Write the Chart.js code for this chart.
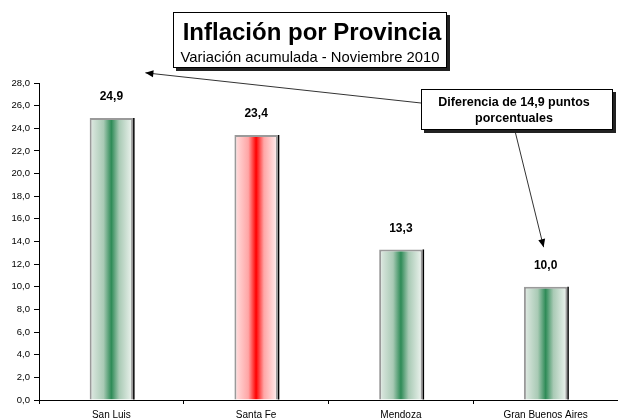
<!DOCTYPE html>
<html>
<head>
<meta charset="utf-8">
<script src="https://cdn.jsdelivr.net/npm/chart.js@4"></script>
<style>
html,body{margin:0;padding:0;background:#fff;}
#wrap{width:618px;height:420px;position:relative;}
</style>
</head>
<body>
<div id="wrap"><canvas id="c" width="618" height="420"></canvas></div>
<script>
const categories = ['San Luis', 'Santa Fe', 'Mendoza', 'Gran Buenos Aires'];
const inflation = [24.9, 23.4, 13.3, 10.0];
const barPalette = ['green', 'red', 'green', 'green'];
const yTicks = {min: 0, max: 28, step: 2};
const titleText = 'Inflación por Provincia';
const subtitleText = 'Variación acumulada - Noviembre 2010';
const noteLines = ['Diferencia de 14,9 puntos', 'porcentuales'];

const FONT = '"Liberation Sans", Arial, sans-serif';
const BAR_FRAC = 0.3;
const fmt = v => v.toFixed(1).replace('.', ',');

const gradStops = {
  green: ['#e2ebe5', '#a9cab5', '#2e8b57', '#a9cab5', '#f0f5f1'],
  red:   ['#ffe2e2', '#ffa6a6', '#ff0000', '#ffa6a6', '#fff2f2']
};

function barFill(ctx) {
  const chart = ctx.chart;
  const xs = chart.scales.x;
  const kind = barPalette[ctx.dataIndex] || 'green';
  const stops = gradStops[kind];
  if (!xs || ctx.type !== 'data') return stops[2];
  const c = xs.getPixelForValue(ctx.dataIndex);
  const half = (xs.width / categories.length) * BAR_FRAC / 2;
  if (!isFinite(c) || !isFinite(half) || half <= 0) return stops[2];
  const g = chart.ctx.createLinearGradient(c - half, 0, c + half, 0);
  g.addColorStop(0, stops[0]);
  g.addColorStop(0.32, stops[1]);
  g.addColorStop(0.5, stops[2]);
  g.addColorStop(0.68, stops[3]);
  g.addColorStop(1, stops[4]);
  return g;
}

function drawBox(ctx, x, y, w, h, sh) {
  ctx.save();
  ctx.fillStyle = '#222';
  ctx.fillRect(x + sh, y + sh, w, h);
  ctx.fillStyle = '#fff';
  ctx.fillRect(x, y, w, h);
  ctx.strokeStyle = '#000';
  ctx.lineWidth = 1;
  ctx.strokeRect(x + 0.5, y + 0.5, w - 1, h - 1);
  ctx.restore();
}

function arrow(ctx, x1, y1, x2, y2) {
  ctx.save();
  ctx.strokeStyle = '#333';
  ctx.fillStyle = '#000';
  ctx.lineWidth = 1;
  ctx.beginPath();
  ctx.moveTo(x1, y1);
  ctx.lineTo(x2, y2);
  ctx.stroke();
  const a = Math.atan2(y2 - y1, x2 - x1);
  const L = 8, W = 3.5;
  ctx.beginPath();
  ctx.moveTo(x2, y2);
  ctx.lineTo(x2 - L * Math.cos(a) + W * Math.sin(a), y2 - L * Math.sin(a) - W * Math.cos(a));
  ctx.lineTo(x2 - L * Math.cos(a) - W * Math.sin(a), y2 - L * Math.sin(a) + W * Math.cos(a));
  ctx.closePath();
  ctx.fill();
  ctx.restore();
}

const decor = {
  id: 'decor',
  afterDatasetsDraw(chart) {
    const ctx = chart.ctx;
    const meta = chart.getDatasetMeta(0);
    ctx.save();
    meta.data.forEach((bar, i) => {
      const p = bar.getProps(['x', 'y', 'base', 'width'], true);
      ctx.strokeStyle = '#000';
      ctx.lineWidth = 1.5;
      ctx.beginPath();
      ctx.moveTo(p.x + p.width / 2 + 0.75, p.y);
      ctx.lineTo(p.x + p.width / 2 + 0.75, p.base);
      ctx.stroke();
      ctx.fillStyle = '#000';
      ctx.font = 'bold 12px ' + FONT;
      ctx.textAlign = 'center';
      ctx.textBaseline = 'middle';
      ctx.fillText(fmt(inflation[i]), p.x, p.y - 21);
    });
    ctx.restore();
  },
  afterDraw(chart) {
    const ctx = chart.ctx;
    const xs = chart.scales.x, ys = chart.scales.y;
    drawBox(ctx, 173, 12, 274, 56, 3);
    ctx.save();
    ctx.fillStyle = '#000';
    ctx.textAlign = 'center';
    ctx.textBaseline = 'alphabetic';
    ctx.font = 'bold 24px ' + FONT;
    ctx.fillText(titleText, 312, 40);
    ctx.font = '14.8px ' + FONT;
    ctx.fillText(subtitleText, 310, 62);
    ctx.restore();

    const tip1x = xs.getPixelForValue(0) + 34, tip1y = ys.getPixelForValue(28.9);
    const tip2x = xs.getPixelForValue(3) - 2, tip2y = ys.getPixelForValue(13.5);
    arrow(ctx, 421, 103, tip1x, tip1y);
    arrow(ctx, 515, 131, tip2x, tip2y);

    drawBox(ctx, 421, 89, 192, 41, 3);
    ctx.save();
    ctx.fillStyle = '#000';
    ctx.textAlign = 'center';
    ctx.textBaseline = 'middle';
    ctx.font = 'bold 12.5px ' + FONT;
    ctx.fillText(noteLines[0], 514, 103);
    ctx.fillText(noteLines[1], 514, 119);
    ctx.restore();
  }
};

new Chart(document.getElementById('c'), {
  type: 'bar',
  data: {
    labels: categories,
    datasets: [{
      data: inflation,
      backgroundColor: barFill,
      borderColor: '#9a9a9a',
      borderWidth: {top: 2, left: 2, right: 2, bottom: 0},
      borderSkipped: 'bottom',
      categoryPercentage: 1,
      barPercentage: BAR_FRAC
    }]
  },
  options: {
    responsive: false,
    animation: false,
    devicePixelRatio: 1,
    layout: {padding: {top: 83, right: -4, left: 0, bottom: 0}},
    plugins: {legend: {display: false}, tooltip: {enabled: false}, title: {display: false}},
    scales: {
      x: {
        offset: true,
        afterFit: s => { s.height = 20; },
        grid: {display: true, drawOnChartArea: false, offset: true, tickLength: 4, color: '#000'},
        border: {display: true, color: '#000', width: 1},
        ticks: {font: {family: FONT, size: 10}, color: '#000', padding: 5, maxRotation: 0}
      },
      y: {
        min: yTicks.min,
        max: yTicks.max,
        afterFit: s => { s.width = 39; },
        grid: {display: true, drawOnChartArea: false, tickLength: 5, color: '#000'},
        border: {display: true, color: '#000', width: 1},
        ticks: {stepSize: yTicks.step, font: {family: FONT, size: 9.5}, color: '#000', padding: 4,
                callback: v => fmt(v)}
      }
    }
  },
  plugins: [decor]
});
</script>
</body>
</html>
